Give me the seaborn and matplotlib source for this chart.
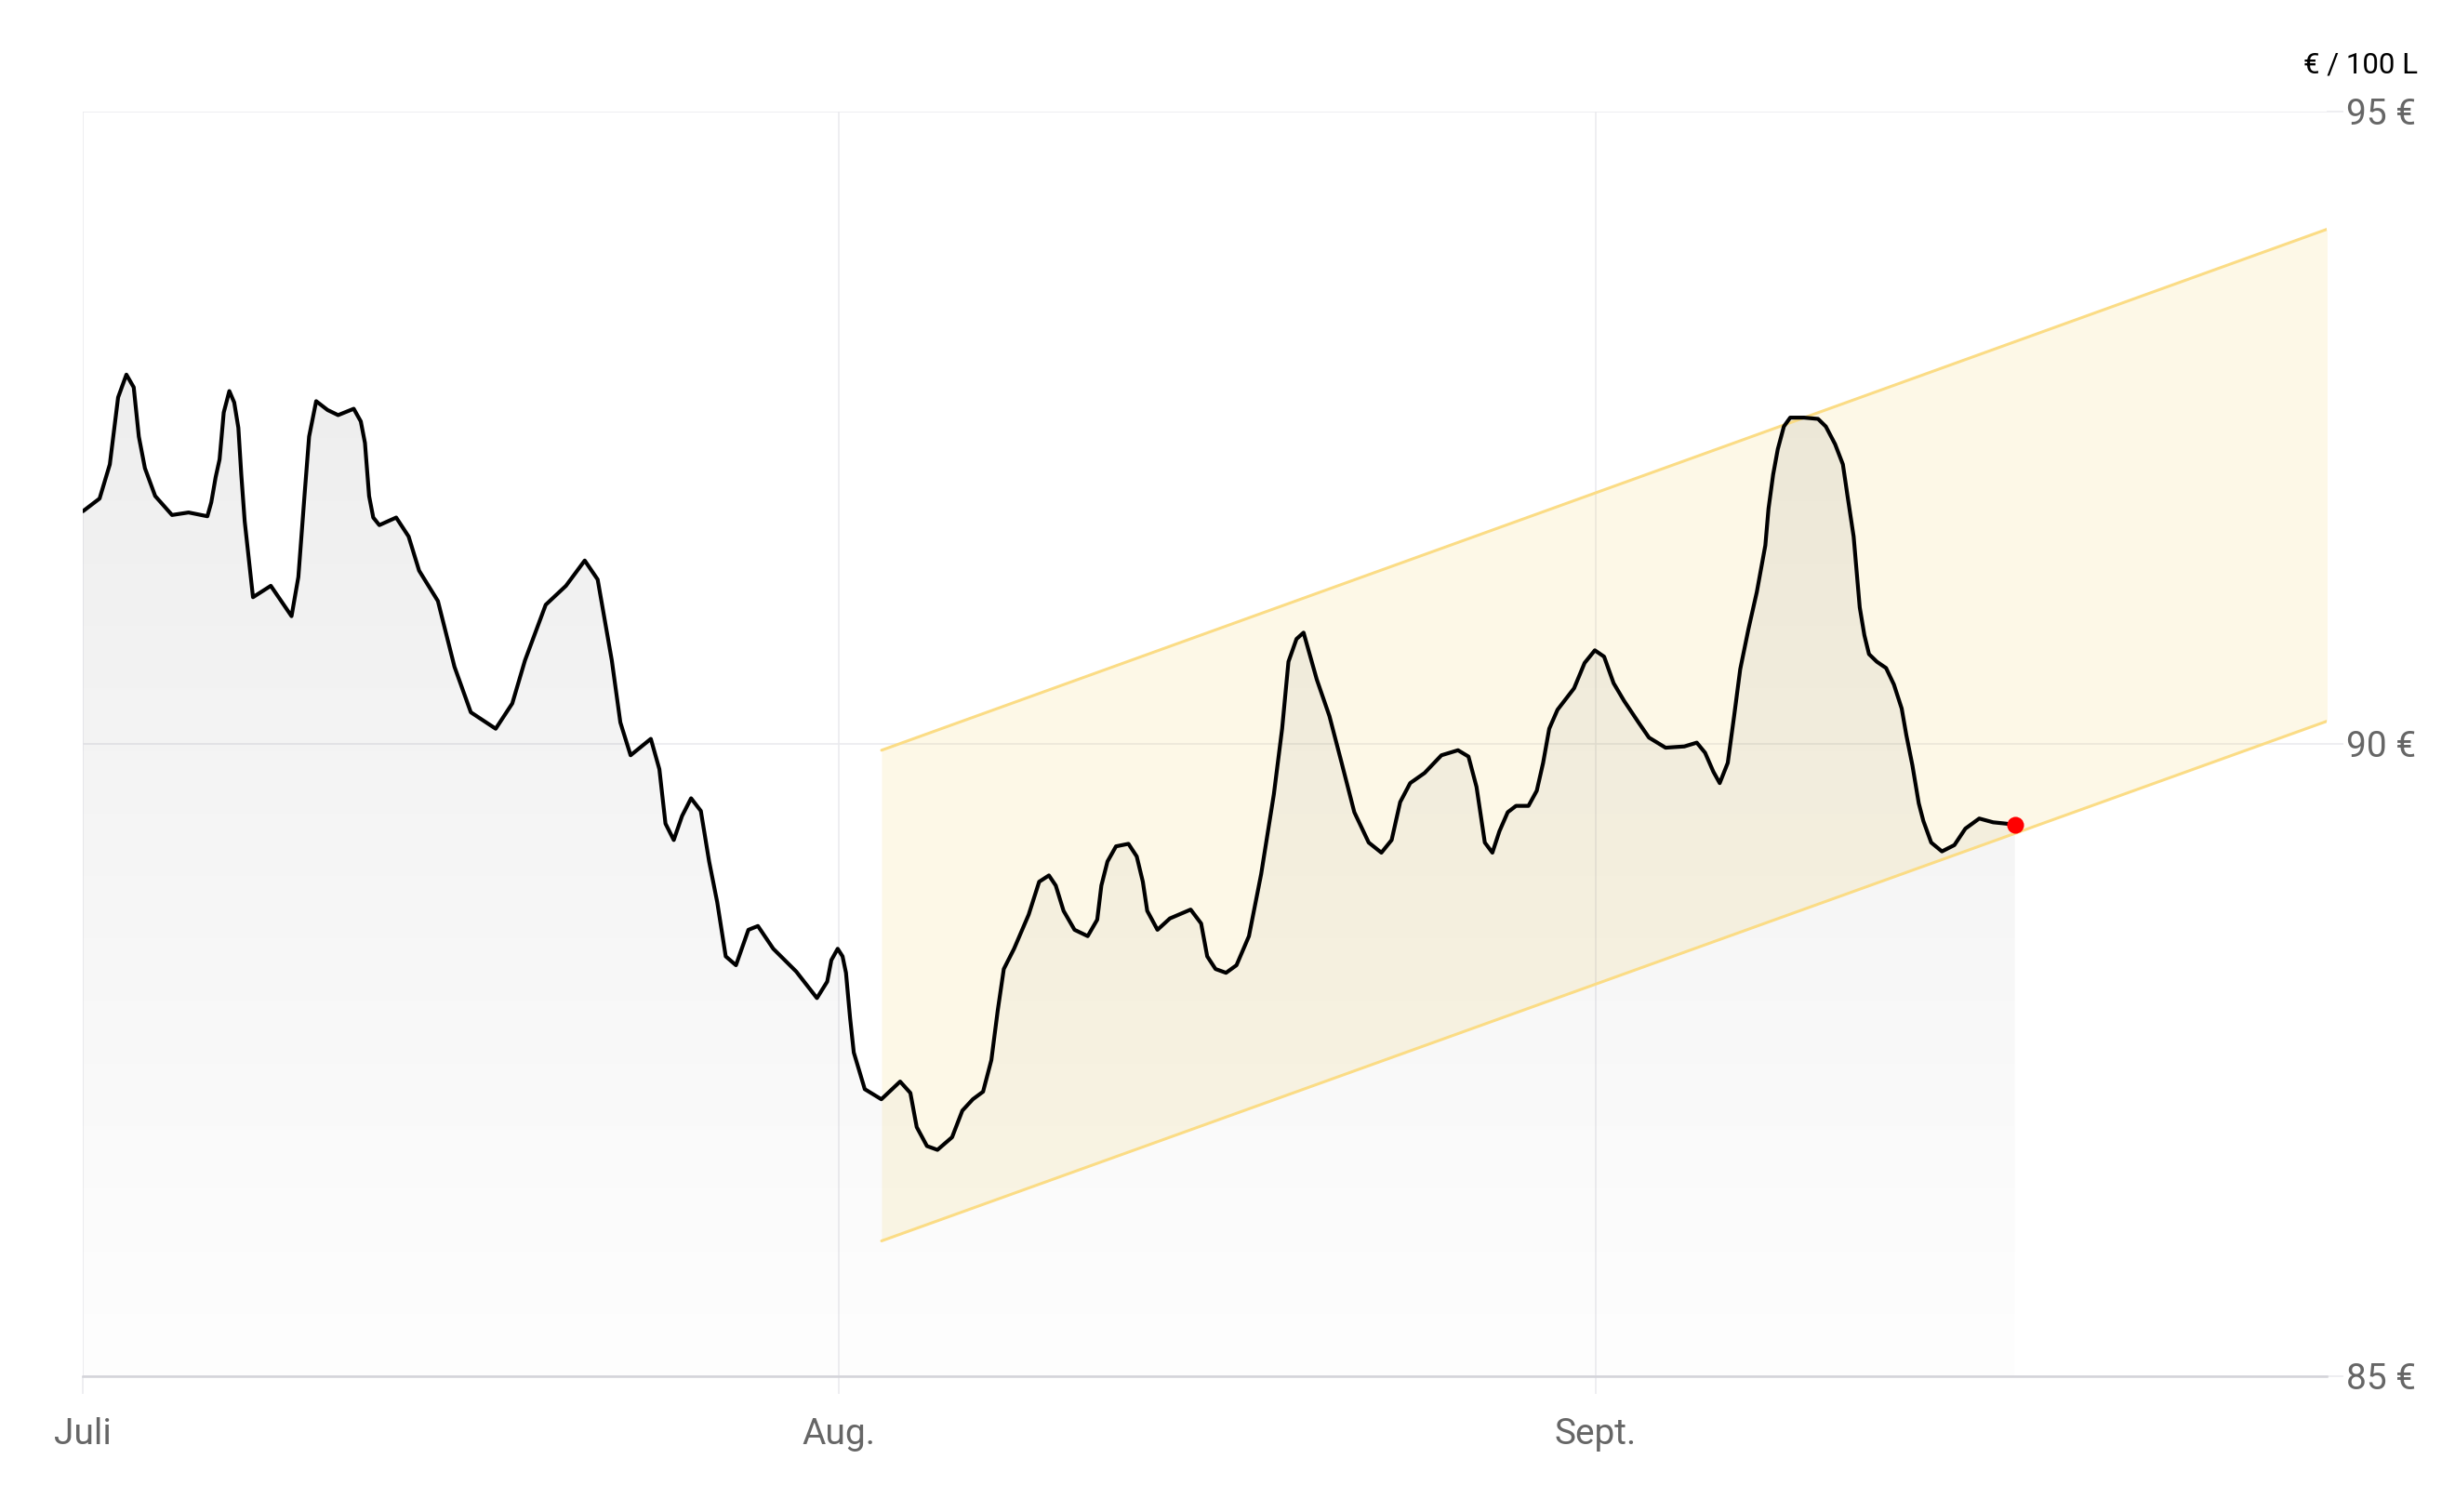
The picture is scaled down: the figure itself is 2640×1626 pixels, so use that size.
import numpy as np
import pandas as pd
import matplotlib
matplotlib.use("Agg")
import matplotlib.pyplot as plt
import seaborn as sns

# ---------------- data (days since 1 July, price in EUR / 100 L) ----------------
days = [0.00, 0.68, 1.10, 1.44, 1.78, 2.08, 2.29, 2.54, 2.96, 3.65, 4.33, 5.10, 5.26, 5.44,
        5.60, 5.77, 6.00, 6.20, 6.37, 6.49, 6.63, 6.97, 7.70, 8.55, 8.83, 9.10, 9.27, 9.56,
        10.03, 10.46, 11.10, 11.39, 11.56, 11.73, 11.90, 12.15, 12.84, 13.35, 13.78, 14.55,
        15.23, 15.90, 16.92, 17.60, 18.12, 18.97, 19.80, 20.57, 21.10, 21.68, 22.03, 22.45,
        23.28, 23.63, 23.88, 24.22, 24.56, 24.93, 25.33, 25.67, 26.00, 26.35, 26.77, 27.28,
        27.67, 28.30, 29.24, 30.09, 30.51, 30.68, 30.94, 31.14, 31.28, 31.45, 31.60, 32.05,
        32.73, 33.50, 33.92, 34.18, 34.60, 35.03, 35.63, 36.05, 36.48, 36.90, 37.24, 37.50,
        37.75, 38.17, 38.77, 39.20, 39.60, 39.88, 40.20, 40.65, 41.19, 41.58, 41.75, 42.00,
        42.35, 42.86, 43.20, 43.45, 43.63, 44.05, 44.56, 45.41, 45.84, 46.09, 46.43, 46.86,
        47.29, 47.80, 48.30, 48.82, 49.16, 49.42, 49.75, 50.04, 50.58, 51.10, 51.60, 52.12,
        52.71, 53.23, 53.65, 54.00, 54.41, 55.00, 55.69, 56.37, 56.80, 57.13, 57.47, 57.78,
        58.07, 58.41, 58.75, 59.26, 59.60, 59.86, 60.11, 60.45, 61.13, 61.56, 61.98, 62.36,
        62.75, 63.18, 63.77, 64.20, 64.88, 65.65, 66.16, 66.50, 66.84, 67.10, 67.43, 67.69,
        67.94, 68.28, 68.62, 68.97, 69.10, 69.29, 69.48, 69.73, 69.99, 70.56, 71.13, 71.45,
        71.83, 72.15, 72.34, 72.59, 72.72, 72.84, 73.03, 73.22, 73.54, 73.92, 74.24, 74.56,
        74.75, 75.00, 75.26, 75.45, 75.77, 76.21, 76.72, 77.17, 77.74, 78.31, 78.82, 79.20]
prices = [91.84, 91.94, 92.21, 92.74, 92.92, 92.82, 92.43, 92.18, 91.96, 91.81, 91.83, 91.80, 91.91, 92.11,
          92.25, 92.62, 92.79, 92.70, 92.50, 92.13, 91.76, 91.16, 91.25, 91.01, 91.32, 92.01, 92.43, 92.71,
          92.64, 92.60, 92.65, 92.55, 92.38, 91.96, 91.79, 91.73, 91.79, 91.64, 91.37, 91.13,
          90.61, 90.25, 90.12, 90.32, 90.66, 91.10, 91.25, 91.45, 91.30, 90.66, 90.17, 89.91,
          90.04, 89.80, 89.37, 89.24, 89.43, 89.57, 89.47, 89.07, 88.75, 88.32, 88.25, 88.53,
          88.56, 88.38, 88.20, 87.99, 88.12, 88.29, 88.38, 88.32, 88.19, 87.83, 87.56, 87.27,
          87.19, 87.33, 87.24, 86.97, 86.82, 86.79, 86.89, 87.10, 87.19, 87.25, 87.50, 87.89,
          88.22, 88.38, 88.65, 88.91, 88.96, 88.88, 88.68, 88.53, 88.48, 88.61, 88.88, 89.07,
          89.19, 89.21, 89.11, 88.91, 88.68, 88.53, 88.62, 88.69, 88.58, 88.32, 88.22, 88.19,
          88.25, 88.48, 88.97, 89.60, 90.12, 90.65, 90.83, 90.88, 90.51, 90.22, 89.85, 89.46,
          89.22, 89.14, 89.24, 89.54, 89.69, 89.77, 89.91, 89.95, 89.90, 89.66, 89.22, 89.14,
          89.31, 89.46, 89.51, 89.51, 89.63, 89.85, 90.12, 90.27, 90.44, 90.64, 90.74, 90.69,
          90.48, 90.34, 90.17, 90.05, 89.97, 89.98, 90.01, 89.93, 89.78, 89.69, 89.85, 90.22,
          90.59, 90.91, 91.20, 91.57, 91.86, 92.13, 92.33, 92.51, 92.58, 92.58, 92.57, 92.51,
          92.37, 92.21, 91.96, 91.64, 91.35, 91.08, 90.86, 90.71, 90.65, 90.60, 90.47, 90.28,
          90.07, 89.83, 89.53, 89.39, 89.22, 89.15, 89.20, 89.33, 89.41, 89.38, 89.37, 89.36]

channel_days = [32.74, 92.0]
channel_upper = [89.95, 94.07]
channel_lower = [86.07, 90.18]

month_ticks = [0, 31, 62]
month_labels = ["Juli", "Aug.", "Sept."]
price_ticks = [85, 90, 95]
price_labels = ["85 €", "90 €", "95 €"]
unit_label = "€ / 100 L"

df = pd.DataFrame({"day": days, "price": prices})
ch = pd.DataFrame({"day": channel_days, "upper": channel_upper, "lower": channel_lower})

# ---------------- style ----------------
sns.set_theme(style="white")
plt.rcParams["font.family"] = ["Roboto", "DejaVu Sans"]

fig = plt.figure(figsize=(26.4, 16.26), dpi=100)
ax = fig.add_axes([0.0338, 0.0898, 0.9141, 0.8364])

grid_c = "#e9e9ee"
ax.set_axisbelow(True)
ax.grid(True, color=grid_c, linewidth=1.1)

# channel
ax.fill_between(ch["day"], ch["lower"], ch["upper"], color=(245/255, 200/255, 60/255),
                alpha=0.12, linewidth=0, zorder=1)

# gradient fill under the price line
alpha_col = np.linspace(0.087, 0.008, 256).reshape(-1, 1)
rgba = np.zeros((256, 1, 4))
rgba[..., 3] = alpha_col
im = ax.imshow(rgba, extent=[days[0], days[-1], 85, 95], origin="upper",
               aspect="auto", zorder=2, interpolation="bilinear")
poly = ax.fill_between(df["day"], df["price"], 85, facecolor="none", edgecolor="none")
im.set_clip_path(poly.get_paths()[0], transform=ax.transData)

# channel lines
sns.lineplot(data=ch, x="day", y="upper", ax=ax, color="#fbdc85", linewidth=2.2, zorder=3)
sns.lineplot(data=ch, x="day", y="lower", ax=ax, color="#fbdc85", linewidth=2.2, zorder=3)

# price line
sns.lineplot(data=df, x="day", y="price", ax=ax, color="black", linewidth=3.0,
             estimator=None, sort=False, zorder=4,
             solid_joinstyle="round", solid_capstyle="round")
ax.scatter([days[-1]], [prices[-1]], s=170, color="#ff0000", zorder=5, linewidths=0)

ax.set_xlim(0, 92)
ax.set_ylim(85, 95)

ax.set_xticks(month_ticks)
ax.set_xticklabels(month_labels)
ax.set_yticks(price_ticks)
ax.set_yticklabels(price_labels)
ax.yaxis.tick_right()
ax.set_xlabel("")
ax.set_ylabel("")

for s in ["top", "left", "right"]:
    ax.spines[s].set_visible(False)
ax.spines["bottom"].set_color("#d3d3d9")
ax.spines["bottom"].set_linewidth(1.8)
ax.spines["bottom"].set_zorder(6)

ax.tick_params(axis="x", which="both", direction="out", length=13.7, width=1.1,
               color=grid_c, pad=18, labelsize=28, labelcolor="#666666", bottom=True)
ax.tick_params(axis="y", which="both", direction="out", length=13, width=1.1,
               color=grid_c, pad=1.5, labelsize=28, labelcolor="#666666", right=True, left=False)

fig.text(0.9848, 0.9518, unit_label, ha="right", va="baseline", fontsize=22.5, color="black")

fig.savefig("out.png", dpi=100, facecolor="white")
